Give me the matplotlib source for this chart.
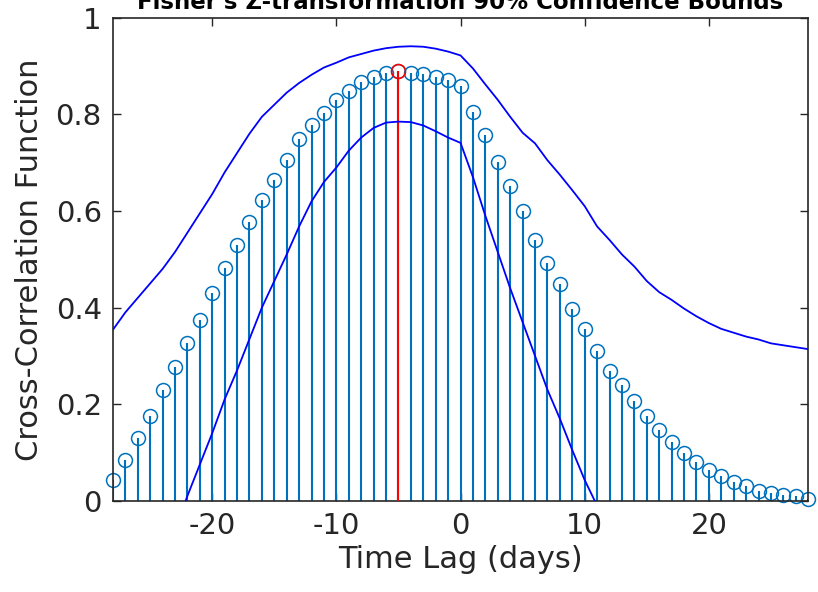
import numpy as np
import matplotlib
matplotlib.use("Agg")
import matplotlib.pyplot as plt

plt.rcParams["font.family"] = ["DejaVu Sans"]
plt.rcParams["axes.unicode_minus"] = False  # MATLAB style hyphen for negatives

# lags (days)
lags = list(range(-28, 29))

# cross-correlation values
ccf = [0.043, 0.085, 0.131, 0.175, 0.229, 0.277, 0.327, 0.375, 0.430, 0.483,
       0.530, 0.578, 0.623, 0.665, 0.706, 0.748, 0.778, 0.803, 0.830, 0.848,
       0.866, 0.877, 0.885, 0.889, 0.885, 0.884, 0.878, 0.872, 0.858, 0.805,
       0.758, 0.702, 0.652, 0.600, 0.540, 0.493, 0.449, 0.397, 0.355, 0.311,
       0.269, 0.240, 0.206, 0.175, 0.146, 0.122, 0.100, 0.080, 0.064, 0.052,
       0.040, 0.030, 0.021, 0.017, 0.012, 0.009, 0.004]

# Fisher's z 90% bounds
upper = [0.354, 0.390, 0.420, 0.450, 0.480, 0.515, 0.555, 0.595, 0.635, 0.680,
         0.720, 0.760, 0.795, 0.820, 0.845, 0.865, 0.882, 0.897, 0.907, 0.918,
         0.925, 0.932, 0.937, 0.940, 0.941, 0.940, 0.936, 0.930, 0.922, 0.895,
         0.862, 0.830, 0.795, 0.762, 0.740, 0.705, 0.675, 0.643, 0.610, 0.568,
         0.540, 0.510, 0.485, 0.455, 0.432, 0.416, 0.398, 0.382, 0.368, 0.356,
         0.348, 0.340, 0.334, 0.326, 0.322, 0.318, 0.314]
lower = [-0.28, -0.25, -0.21, -0.17, -0.12, -0.06, 0.010, 0.075, 0.140, 0.210,
         0.270, 0.335, 0.400, 0.455, 0.510, 0.568, 0.620, 0.660, 0.690, 0.725,
         0.752, 0.772, 0.783, 0.785, 0.784, 0.777, 0.765, 0.752, 0.741, 0.670,
         0.590, 0.515, 0.440, 0.370, 0.300, 0.230, 0.170, 0.105, 0.043, -0.01,
         -0.06, -0.10, -0.14, -0.17, -0.20, -0.22, -0.24, -0.26, -0.27, -0.28,
         -0.29, -0.30, -0.31, -0.31, -0.32, -0.32, -0.33]

peak_lag = -5

stem_col = "#0072BD"

fig = plt.figure(figsize=(8.18, 5.92), dpi=100)
ax = fig.add_axes([0.138, 0.154, 0.850, 0.816])

ml, sl, bl = ax.stem(lags, ccf, linefmt="-", markerfmt="o", basefmt=" ")
plt.setp(sl, color=stem_col, linewidth=1.5)
plt.setp(ml, markerfacecolor="none", markeredgecolor=stem_col,
         markersize=10, markeredgewidth=1.1, clip_on=False)

# highlight the peak lag in red
i = lags.index(peak_lag)
ax.vlines(peak_lag, 0, ccf[i], color="red", linewidth=1.5, zorder=3)
ax.plot(peak_lag, ccf[i], "o", mfc="none", mec="red", ms=10, mew=1.1, zorder=4)

ax.plot(lags, upper, color="#0000FF", linewidth=1.3, zorder=5)
ax.plot(lags, lower, color="#0000FF", linewidth=1.3, zorder=5)

ax.set_xlim(-28, 28)
ax.set_ylim(0, 1)
ax.set_xticks([-20, -10, 0, 10, 20])
ax.set_yticks([0, 0.2, 0.4, 0.6, 0.8, 1])
ax.set_yticklabels(["0", "0.2", "0.4", "0.6", "0.8", "1"])
ax.tick_params(direction="in", top=True, right=True, labelsize=21,
               length=6, width=1, colors="#262626", pad=8)
for s in ax.spines.values():
    s.set_linewidth(1.2)
    s.set_color("#262626")

ax.set_xlabel("Time Lag (days)", fontsize=22, color="#262626", labelpad=4)
ax.set_ylabel("Cross-Correlation Function", fontsize=22, color="#262626", labelpad=8)
ax.set_title("Fisher's Z-transformation 90% Confidence Bounds",
             fontsize=16.5, fontweight="bold", pad=6)

fig.savefig("out.png", dpi=100)
